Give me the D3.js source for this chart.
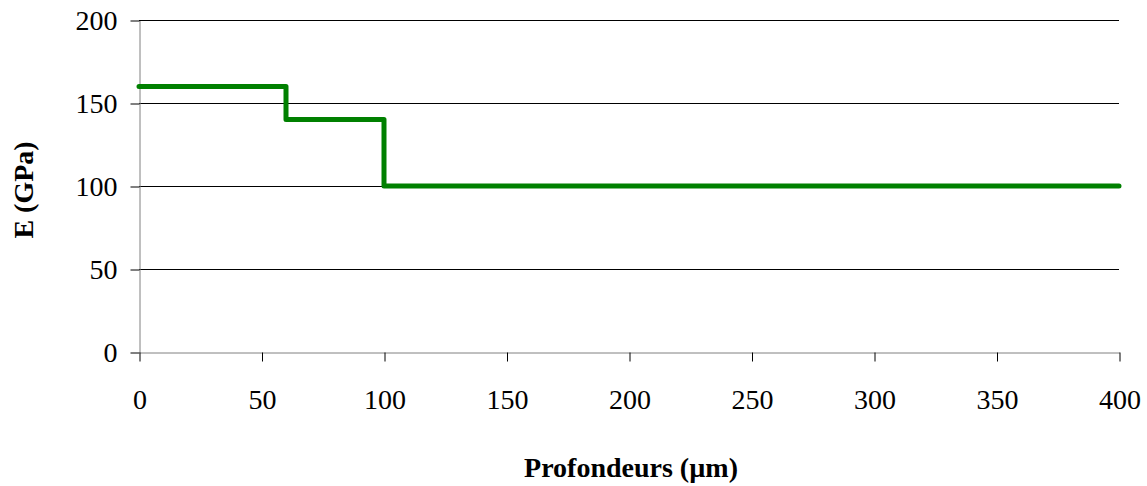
<!DOCTYPE html>
<html><head><meta charset="utf-8">
<script src="https://cdn.jsdelivr.net/npm/d3@7"></script>
<style>body{margin:0;background:#fff;} svg{display:block;}</style>
</head><body>
<svg id="c" width="1147" height="486"></svg>
<script>
const depths = [0, 60, 60, 100, 100, 400];
const moduli = [160, 160, 140, 140, 100, 100];
const xTicks = [0, 50, 100, 150, 200, 250, 300, 350, 400];
const yTicks = [0, 50, 100, 150, 200];
const xTitle = "Profondeurs (µm)";
const yTitle = "E (GPa)";

const svg = d3.select("#c");
const L = 139, R = 1119, T = 20, B = 352;
const x = d3.scaleLinear().domain([0, 400]).range([L, R]);
const y = d3.scaleLinear().domain([0, 200]).range([B, T]);
const font = "'Liberation Serif', 'Times New Roman', serif";
const fs = 28;

// gridlines
svg.append("g").selectAll("line").data(yTicks.filter(d => d > 0)).join("line")
  .attr("x1", L).attr("x2", R).attr("y1", d => y(d) + 0.5).attr("y2", d => y(d) + 0.5)
  .attr("stroke", "#000").attr("stroke-width", 1);

// y axis
const ya = svg.append("g").attr("transform", `translate(${L + 0.5},0.5)`)
  .call(d3.axisLeft(y).tickValues(yTicks).tickSize(9).tickSizeOuter(0));
ya.select(".domain").attr("stroke", "#808080");
ya.selectAll(".tick line").attr("stroke", "#000");
ya.selectAll("text").attr("font-family", font).attr("font-size", fs).attr("fill", "#000")
  .attr("x", -22).attr("dy", "0.33em");

// x axis
const xa = svg.append("g").attr("transform", `translate(0.5,${B + 0.5})`)
  .call(d3.axisBottom(x).tickValues(xTicks).tickSize(9).tickSizeOuter(0));
xa.select(".domain").attr("stroke", "#808080");
xa.selectAll(".tick line").attr("stroke", "#000");
xa.selectAll("text").attr("font-family", font).attr("font-size", fs).attr("fill", "#000")
  .attr("y", 56).attr("dy", 0);

// step line
const pts = depths.map((d, i) => [d, moduli[i]]);
svg.append("path").datum(pts)
  .attr("d", d3.line().x(d => x(d[0])).y(d => y(d[1])))
  .attr("fill", "none").attr("stroke", "#008000").attr("stroke-width", 5)
  .attr("stroke-linejoin", "round").attr("stroke-linecap", "round");

// titles
svg.append("text").attr("x", 631).attr("y", 477).attr("text-anchor", "middle")
  .attr("font-family", font).attr("font-size", fs).attr("font-weight", "bold").text(xTitle);
svg.append("text").attr("transform", "translate(33,190) rotate(-90)").attr("text-anchor", "middle")
  .attr("font-family", font).attr("font-size", fs).attr("font-weight", "bold").text(yTitle);
</script>
</body></html>
